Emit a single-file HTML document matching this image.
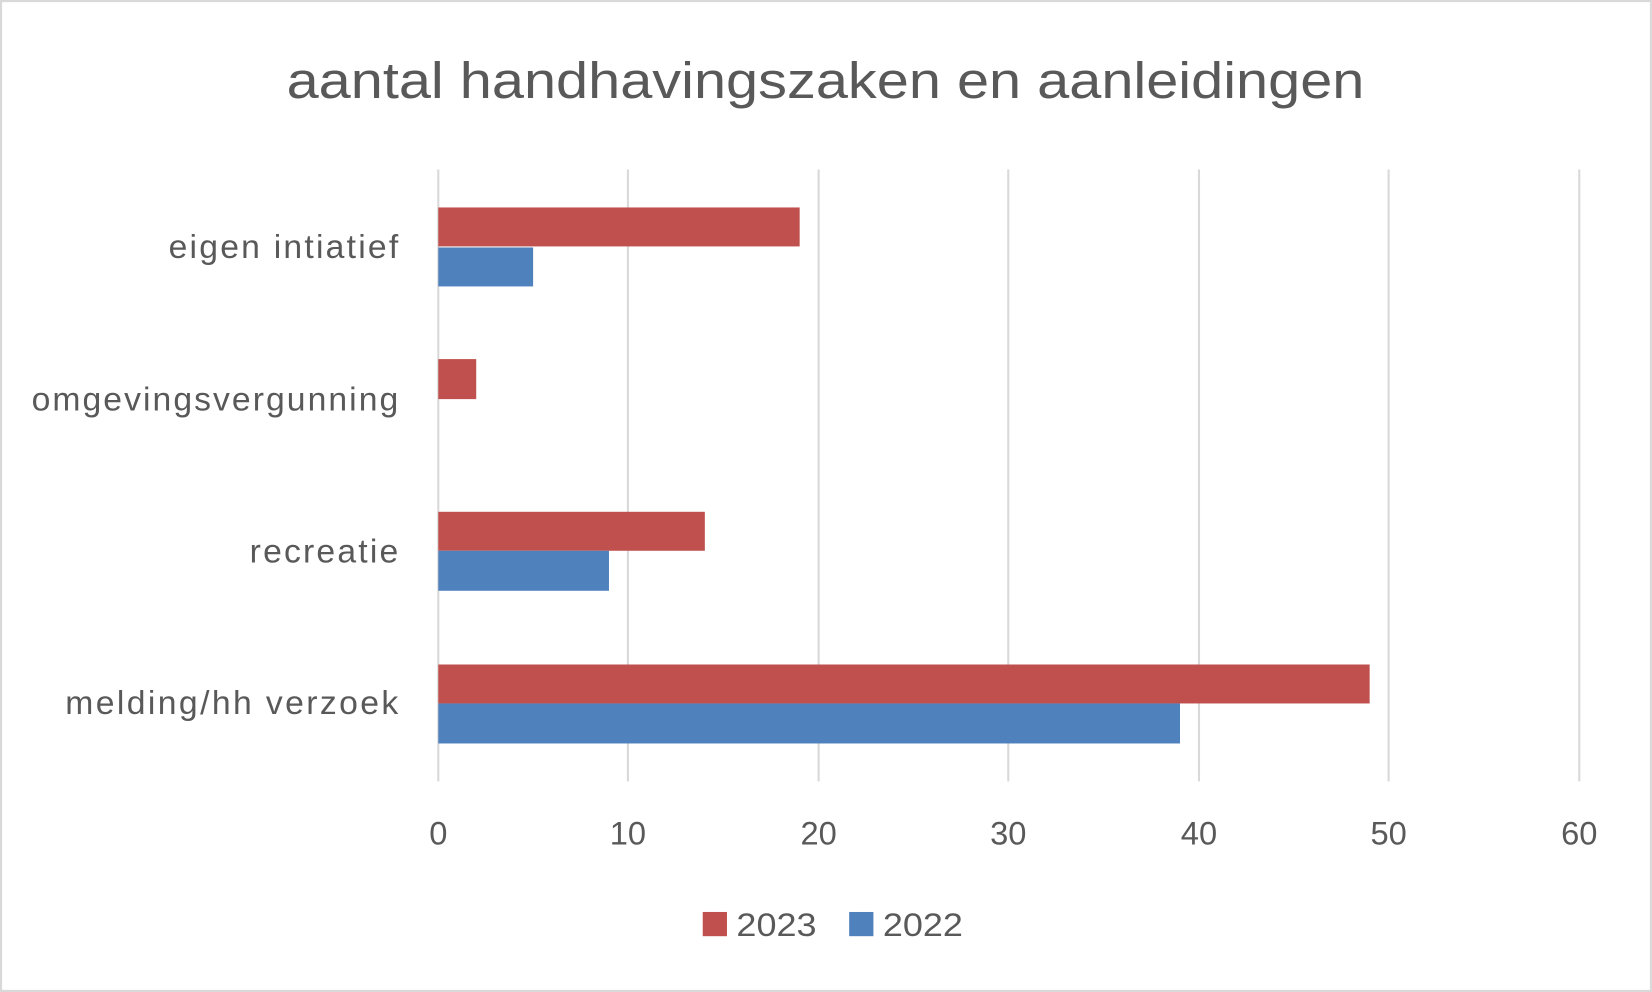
<!DOCTYPE html>
<html><head><meta charset="utf-8"><style>html,body{margin:0;padding:0;background:#fff}svg{display:block}</style></head>
<body>
<svg width="1652" height="992" viewBox="0 0 1568 942" preserveAspectRatio="none" xmlns="http://www.w3.org/2000/svg" font-family="'Liberation Sans', sans-serif" fill="#595959">
<rect x="1" y="1" width="1566" height="940" fill="#fff" stroke="#D9D9D9" stroke-width="2"/>
<text x="272" y="93" font-size="48" textLength="1023" lengthAdjust="spacingAndGlyphs">aantal handhavingszaken en aanleidingen</text>
<g stroke="#D9D9D9" stroke-width="2">
<line x1="596" y1="161" x2="596" y2="742"/><line x1="777" y1="161" x2="777" y2="742"/><line x1="957" y1="161" x2="957" y2="742"/><line x1="1138" y1="161" x2="1138" y2="742"/><line x1="1318" y1="161" x2="1318" y2="742"/><line x1="1499" y1="161" x2="1499" y2="742"/><line x1="416" y1="161" x2="416" y2="742"/>
</g>
<g fill="#C0504D">
<rect x="416" y="197" width="343" height="37"/><rect x="416" y="341" width="36" height="38"/><rect x="416" y="486" width="253" height="37"/><rect x="416" y="631" width="884" height="37"/>
</g>
<g fill="#4F81BD">
<rect x="416" y="235" width="90" height="37"/><rect x="416" y="523" width="162" height="38"/><rect x="416" y="668" width="704" height="38"/>
</g>
<g font-size="32" lengthAdjust="spacingAndGlyphs">
<text x="160" y="245" textLength="218">eigen intiatief</text><text x="30" y="390" textLength="348">omgevingsvergunning</text><text x="237" y="534" textLength="141">recreatie</text><text x="62" y="678" textLength="316">melding/hh verzoek</text>
</g>
<g font-size="31" text-anchor="middle">
<text x="416" y="802">0</text><text x="596" y="802">10</text><text x="777" y="802">20</text><text x="957" y="802">30</text><text x="1138" y="802">40</text><text x="1318" y="802">50</text><text x="1499" y="802">60</text>
</g>
<rect x="667" y="866" width="23" height="23" fill="#C0504D"/><text x="699" y="889" font-size="31" textLength="76" lengthAdjust="spacingAndGlyphs">2023</text>
<rect x="806" y="866" width="23" height="23" fill="#4F81BD"/><text x="838" y="889" font-size="31" textLength="76" lengthAdjust="spacingAndGlyphs">2022</text>
</svg>
</body></html>
